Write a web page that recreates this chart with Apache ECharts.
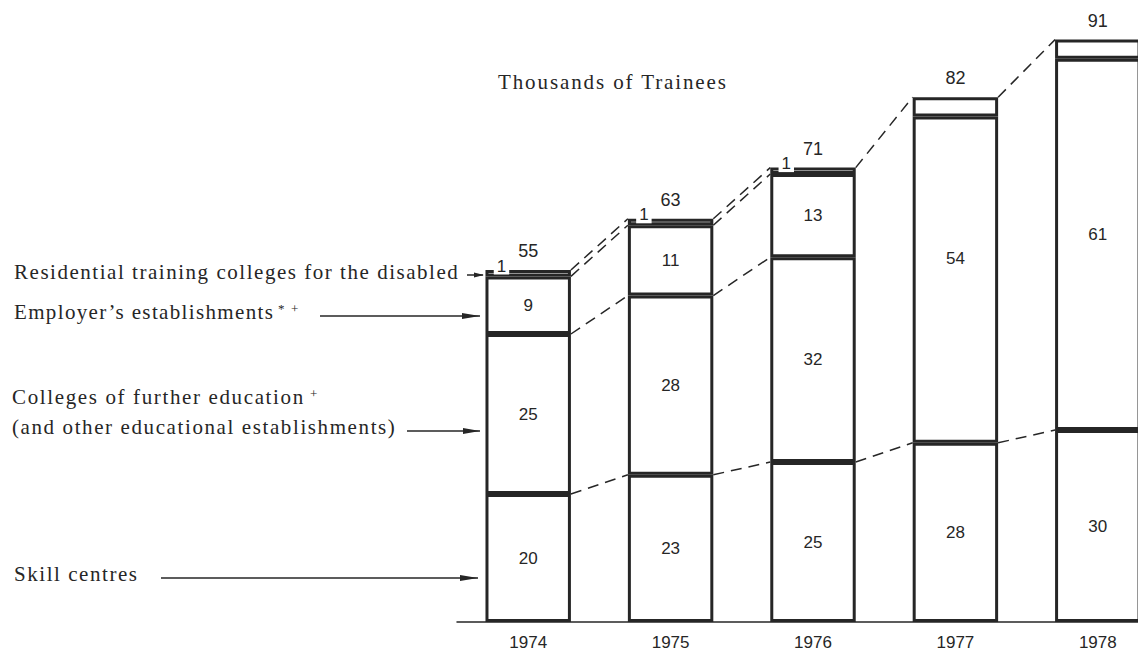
<!DOCTYPE html>
<html>
<head>
<meta charset="utf-8">
<script src="https://cdn.jsdelivr.net/npm/echarts@6/dist/echarts.min.js"></script>
<style>
html,body{margin:0;padding:0;background:#fff;overflow:hidden;}
#chart{width:1169px;height:651px;}
</style>
</head>
<body>
<div id="chart"></div>
<script>
// ---- data (thousands of trainees) ----
const years = ['1974', '1975', '1976', '1977', '1978'];
const skillCentres = [20, 23, 25, 28, 30];
const colleges = [25, 28, 32, null, null];
const employers = [9, 11, 13, null, null];
// 1977 and 1978: colleges + employers shown as one block (printed 54 and 61)
const combined = [null, null, null, 51, 58];
const combinedLabels = ['', '', '', '54', '61'];
const residential = [1, 1, 1, 3, 3];
const residentialLabels = ['1', '1', '1', '', ''];
const totals = [55, 63, 71, 82, 91];

const stackOrder = { skill: skillCentres, colleges: colleges, employers: employers, combined: combined, residential: residential };
const orderNames = ['skill', 'colleges', 'employers', 'combined', 'residential'];
function cumTo(i, name) {
  let s = 0;
  for (const n of orderNames) { s += (stackOrder[n][i] || 0); if (n === name) break; }
  return s;
}
// dashed connectors: [from bar index, boundary on left bar, boundary on right bar]
const connectorDefs = [
  [0, 'skill', 'skill'], [0, 'colleges', 'colleges'], [0, 'employers', 'employers'], [0, 'residential', 'residential'],
  [1, 'skill', 'skill'], [1, 'colleges', 'colleges'], [1, 'employers', 'employers'], [1, 'residential', 'residential'],
  [2, 'skill', 'skill'], [2, 'residential', 'residential'],
  [3, 'skill', 'skill'], [3, 'residential', 'residential']
];
const connectors = connectorDefs.map(d => [d[0], cumTo(d[0], d[1]), cumTo(d[0] + 1, d[2])]);

const INK = '#262626';
const numFont = '"Liberation Sans", Arial, sans-serif';
const serif = '"Liberation Serif", "Times New Roman", serif';
const SERIF_FONT = '21px ' + serif;

const barStyle = { color: '#fff', borderColor: INK, borderWidth: 3 };
const inLabel = { show: true, position: 'inside', color: INK, fontSize: 17, fontFamily: numFont, textBorderWidth: 0 };

function barSeries(name, arr, labelFn) {
  return {
    name: name, type: 'bar', stack: 'all', barCategoryGap: '40%',
    itemStyle: barStyle, z: 3,
    label: Object.assign({}, inLabel, { formatter: labelFn }),
    data: arr.slice()
  };
}

const chart = echarts.init(document.getElementById('chart'), null, { renderer: 'svg' });

const option = {
  backgroundColor: '#fff',
  animation: false,
  grid: { left: 457, right: 0, top: 14, bottom: 29 },
  xAxis: {
    type: 'category', data: years,
    axisLine: { show: true, lineStyle: { color: INK, width: 1.5 } },
    axisTick: { show: false },
    axisLabel: { color: INK, fontSize: 17, fontFamily: numFont, margin: 12 },
    splitLine: { show: false }
  },
  yAxis: { type: 'value', min: 0, max: 95, show: false, splitLine: { show: false } },
  series: [
    barSeries('Skill centres', skillCentres, p => String(p.value)),
    barSeries('Colleges of further education', colleges, p => String(p.value)),
    barSeries('Employer\'s establishments', employers, p => String(p.value)),
    {
      name: 'Colleges and employers', type: 'bar', stack: 'all', barCategoryGap: '40%',
      itemStyle: barStyle, z: 3,
      data: combined.map((v, i) => ({
        value: v,
        label: { show: combinedLabels[i] !== '', offset: [0, i === 3 ? -21 : -10] }
      })),
      label: Object.assign({}, inLabel, { formatter: p => combinedLabels[p.dataIndex] })
    },
    {
      name: 'Residential training colleges for the disabled', type: 'bar', stack: 'all', barCategoryGap: '40%',
      itemStyle: barStyle, z: 3,
      data: residential.map((v, i) => ({ value: v, label: { show: residentialLabels[i] !== '' } })),
      label: {
        show: true, position: [16, -4], align: 'center', verticalAlign: 'middle',
        color: INK, fontSize: 17, fontFamily: numFont, textBorderWidth: 0,
        backgroundColor: '#fff', padding: [0, 3],
        formatter: p => residentialLabels[p.dataIndex]
      }
    },
    {
      // zero-height cap on the stack that carries the printed totals
      name: 'Total', type: 'bar', stack: 'all', barCategoryGap: '40%', z: 4,
      itemStyle: { color: 'rgba(0,0,0,0)', borderWidth: 0 },
      data: totals.map(() => 0),
      label: { show: true, position: 'top', distance: 10, color: INK, fontSize: 18, fontFamily: numFont, textBorderWidth: 0, formatter: p => String(totals[p.dataIndex]) }
    },
    {
      name: 'Connectors', type: 'custom', z: 1,
      encode: { x: 0, y: 1 },
      data: connectors,
      renderItem: function (params, api) {
        const i = api.value(0);
        const p0 = api.coord([i, api.value(1)]);
        const p1 = api.coord([i + 1, api.value(2)]);
        const half = api.size([1, 0])[0] * 0.3;
        return {
          type: 'line',
          shape: { x1: p0[0] + half, y1: p0[1], x2: p1[0] - half, y2: p1[1] },
          style: { stroke: INK, lineWidth: 1.5, lineDash: [11, 7] }
        };
      }
    }
  ],
  graphic: [
    { type: 'text', style: { text: 'Thousands of Trainees', x: 498, y: 82, font: SERIF_FONT, fill: INK, verticalAlign: 'middle' } },
    { type: 'text', style: { text: 'Residential training colleges for the disabled', x: 14, y: 272, font: SERIF_FONT, fill: INK, verticalAlign: 'middle' } },
    { type: 'line', shape: { x1: 467, y1: 275, x2: 483, y2: 275 }, style: { stroke: INK, lineWidth: 1.5 } },
    { type: 'polygon', shape: { points: [[474, 272.5], [484, 275], [474, 277.5]] }, style: { fill: INK } },

    { type: 'text', style: { text: 'Employer\u2019s establishments', x: 14, y: 312, font: SERIF_FONT, fill: INK, verticalAlign: 'middle' } },
    { type: 'text', style: { text: '*  +', x: 278, y: 308, font: '13px ' + serif, fill: INK, verticalAlign: 'middle' } },
    { type: 'line', shape: { x1: 320, y1: 316, x2: 480, y2: 316 }, style: { stroke: INK, lineWidth: 1.5 } },
    { type: 'polygon', shape: { points: [[462, 313], [480, 316], [462, 319]] }, style: { fill: INK } },

    { type: 'text', style: { text: 'Colleges of further education', x: 12, y: 397, font: SERIF_FONT, fill: INK, verticalAlign: 'middle' } },
    { type: 'text', style: { text: '+', x: 310, y: 393, font: '13px ' + serif, fill: INK, verticalAlign: 'middle' } },
    { type: 'text', style: { text: '(and other educational establishments)', x: 12, y: 427, font: SERIF_FONT, fill: INK, verticalAlign: 'middle' } },
    { type: 'line', shape: { x1: 407, y1: 431, x2: 480, y2: 431 }, style: { stroke: INK, lineWidth: 1.5 } },
    { type: 'polygon', shape: { points: [[463, 428], [480, 431], [463, 434]] }, style: { fill: INK } },

    { type: 'text', style: { text: 'Skill centres', x: 14, y: 574, font: SERIF_FONT, fill: INK, verticalAlign: 'middle' } },
    { type: 'line', shape: { x1: 161, y1: 578, x2: 478, y2: 578 }, style: { stroke: INK, lineWidth: 1.5 } },
    { type: 'polygon', shape: { points: [[460, 575], [478, 578], [460, 581]] }, style: { fill: INK } }
  ]
};
chart.setOption(option);

// widen the old-style letter-spaced serif typesetting to the widths in the reference
const targetWidths = {
  'Thousands of Trainees': 228,
  'Residential training colleges for the disabled': 444,
  'Employer\u2019s establishments': 259,
  'Colleges of further education': 291,
  '(and other educational establishments)': 383,
  'Skill centres': 123
};
document.querySelectorAll('#chart svg text').forEach(t => {
  const s = t.textContent;
  if (targetWidths[s] && t.getComputedTextLength) {
    const len = t.getComputedTextLength();
    const ls = (targetWidths[s] - len) / (s.length - 1);
    if (ls > 0) t.setAttribute('letter-spacing', ls.toFixed(2) + 'px');
  }
});
</script>
</body>
</html>
